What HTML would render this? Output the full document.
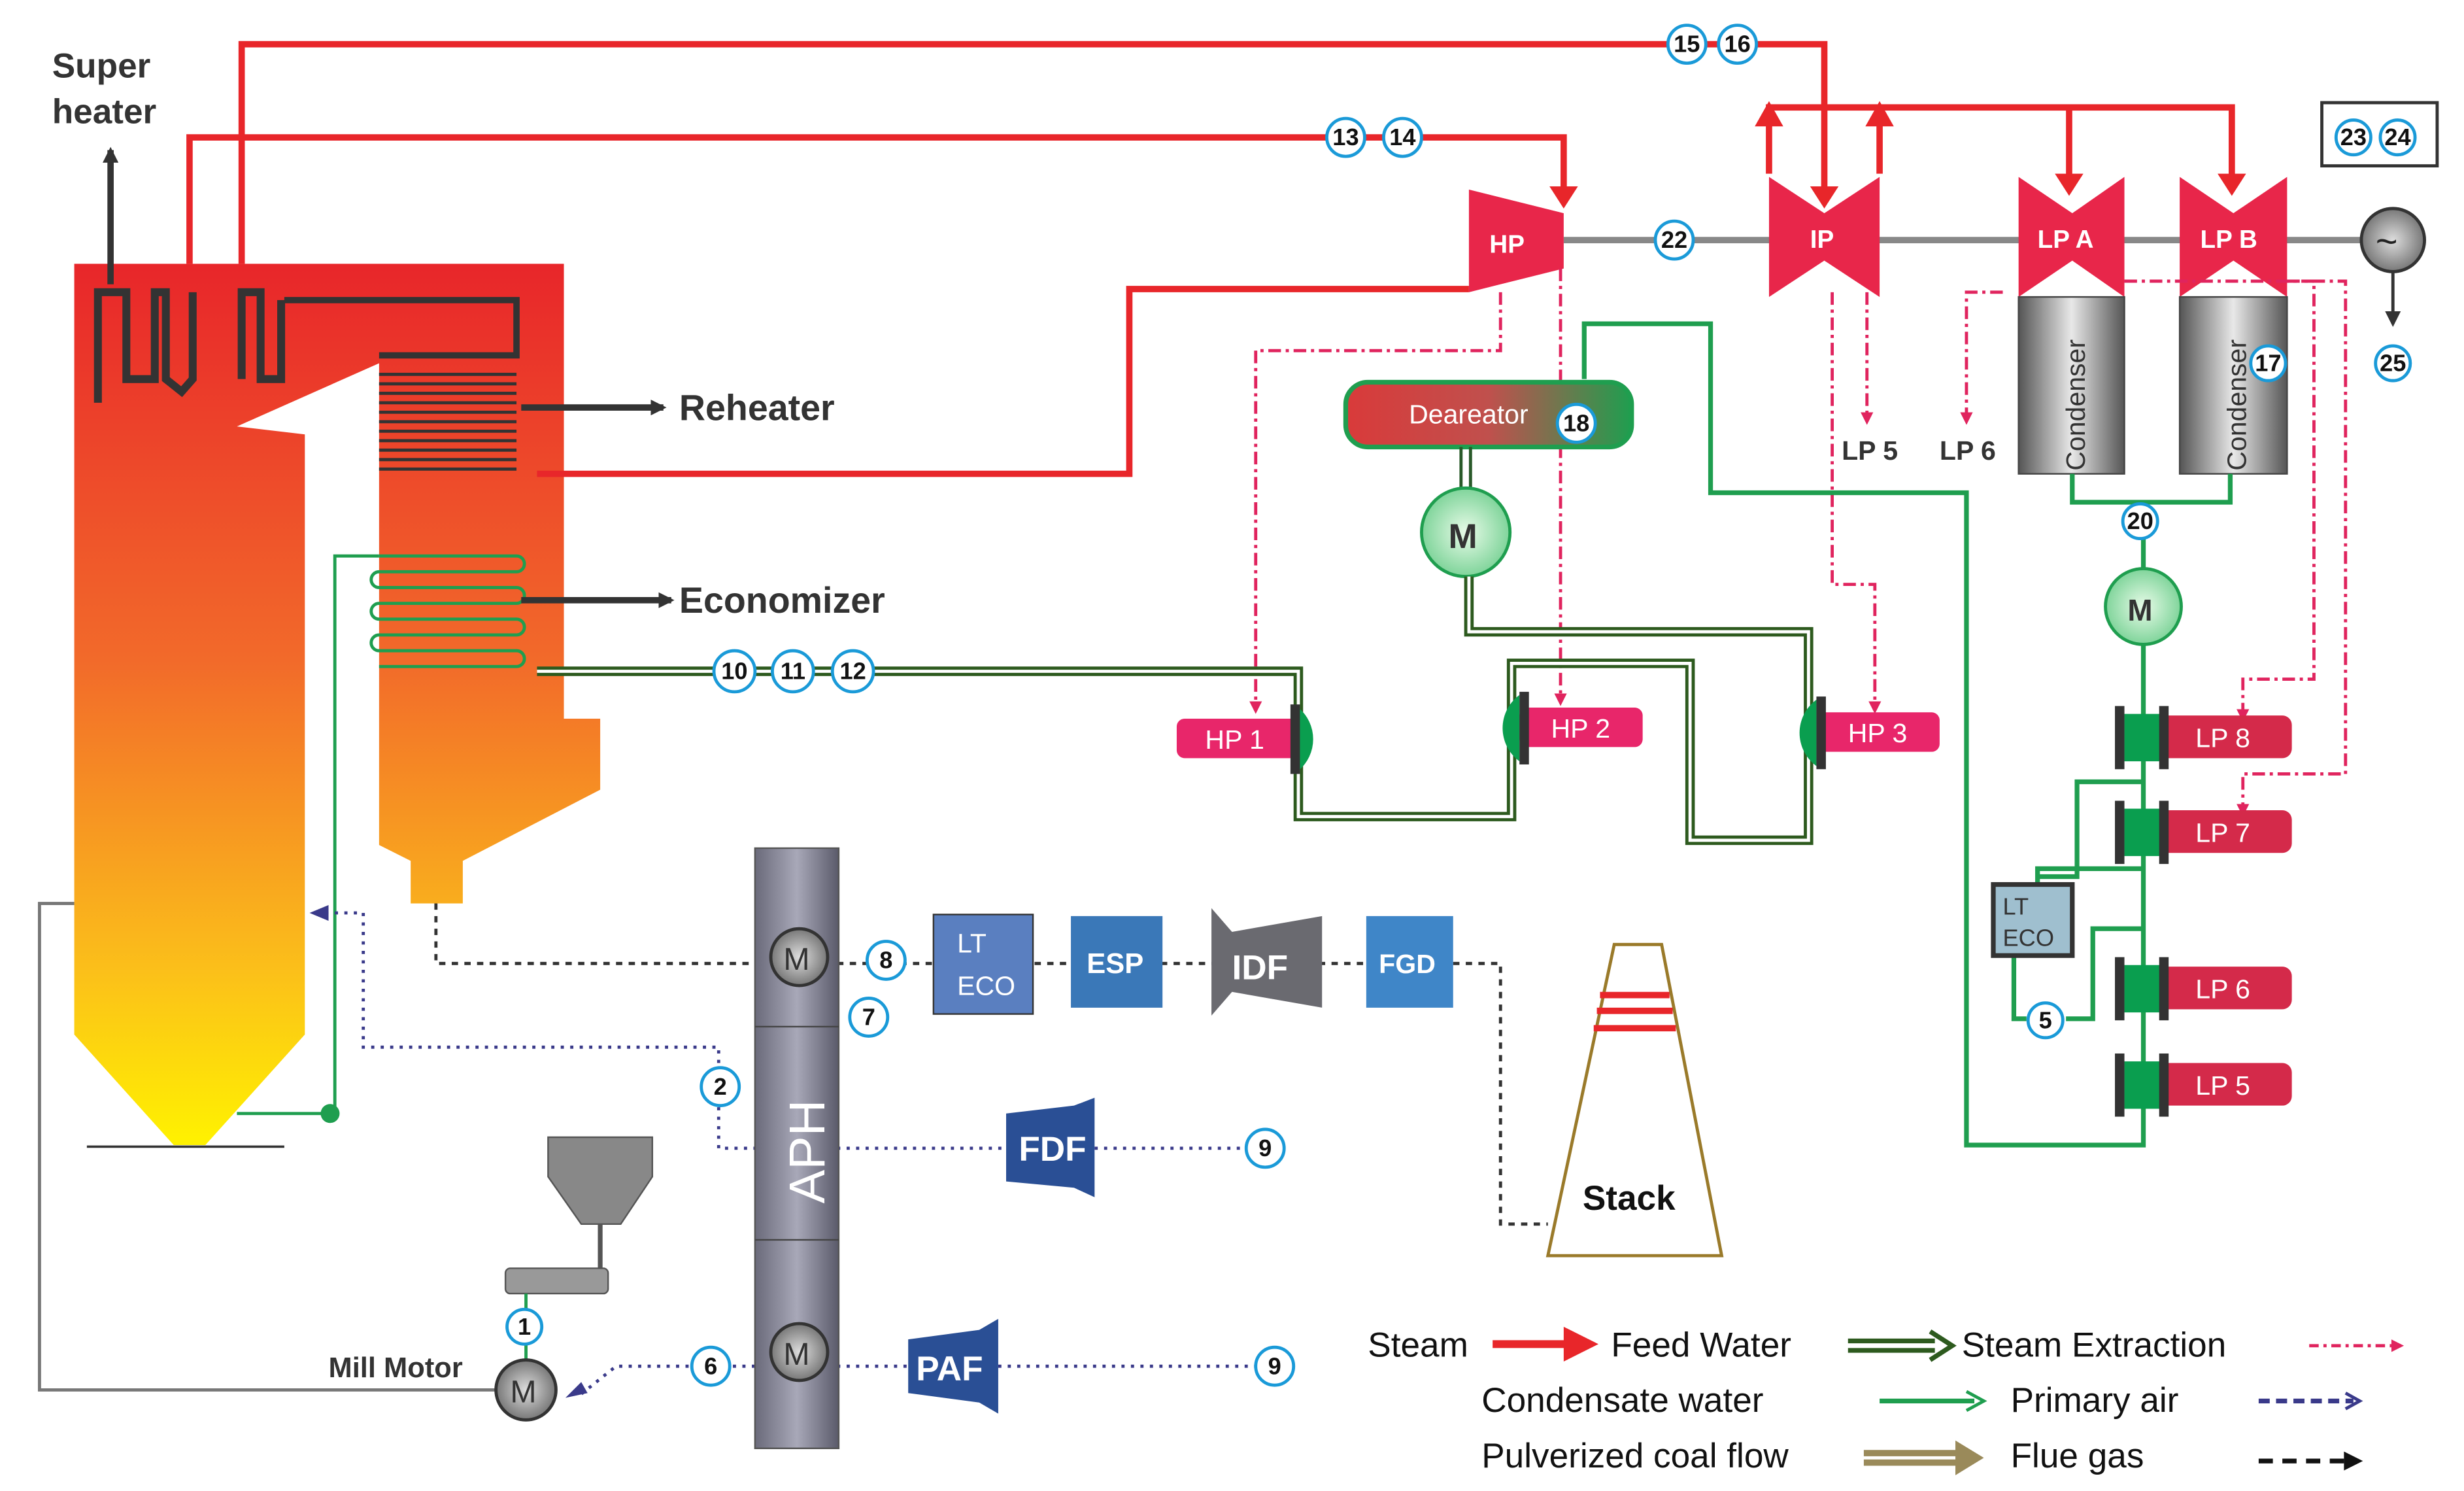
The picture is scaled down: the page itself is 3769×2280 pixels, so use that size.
<!DOCTYPE html>
<html><head><meta charset="utf-8"><style>
html,body{margin:0;padding:0;background:#fff;}
svg{display:block;}
text{font-family:"Liberation Sans",sans-serif;}
</style></head><body>
<svg width="3769" height="2280" viewBox="0 0 1560 944" preserveAspectRatio="none" xmlns="http://www.w3.org/2000/svg">
<defs>
<linearGradient id="boil" x1="0" y1="0" x2="0" y2="1">
<stop offset="0" stop-color="#e8262a"/><stop offset="0.45" stop-color="#f26a2a"/><stop offset="0.8" stop-color="#fbbf1a"/><stop offset="1" stop-color="#fff200"/></linearGradient>
<linearGradient id="dea" x1="0" y1="0" x2="1" y2="0"><stop offset="0" stop-color="#d93a3a"/><stop offset="0.5" stop-color="#c0504d"/><stop offset="1" stop-color="#1f9e4f"/></linearGradient>
<linearGradient id="cond" x1="0" y1="0" x2="1" y2="0"><stop offset="0" stop-color="#555"/><stop offset="0.5" stop-color="#e8e8e8"/><stop offset="1" stop-color="#555"/></linearGradient>
<linearGradient id="aph" x1="0" y1="0" x2="1" y2="0"><stop offset="0" stop-color="#6a6a7a"/><stop offset="0.5" stop-color="#a8a8b8"/><stop offset="1" stop-color="#5a5a6a"/></linearGradient>
<radialGradient id="mg"><stop offset="0" stop-color="#e8fbe8"/><stop offset="1" stop-color="#7fd49a"/></radialGradient>
<radialGradient id="gm"><stop offset="0" stop-color="#ddd"/><stop offset="1" stop-color="#777"/></radialGradient>
<marker id="ar" markerWidth="6" markerHeight="6" refX="3" refY="3" orient="auto" markerUnits="strokeWidth"><path d="M0,0 L6,3 L0,6 Z" fill="#e8262a"/></marker>
<marker id="ap" markerWidth="8" markerHeight="8" refX="6" refY="4" orient="auto" markerUnits="userSpaceOnUse"><path d="M0,0 L8,4 L0,8 Z" fill="#e0245e"/></marker>
<marker id="ak" markerWidth="10" markerHeight="10" refX="8" refY="5" orient="auto" markerUnits="userSpaceOnUse"><path d="M0,0 L10,5 L0,10 Z" fill="#333"/></marker>
</defs>

<!-- Boiler -->
<path d="M47,167 L357,167 L357,455 L380,455 L380,500 L293,545 L293,572 L260,572 L260,545 L240,535 L240,230 L150,270 L193,275 L193,655 L130,725 L110,725 L47,655 Z" fill="url(#boil)"/>
<line x1="55" y1="726" x2="180" y2="726" stroke="#333" stroke-width="1.5"/>
<!-- superheater tubes -->
<path d="M62,255 V185 H80 V240 H98 V185 H105 V240 L115,248 L122,240 V185 M153,240 V185 H165 V240 H178 V190" fill="none" stroke="#333" stroke-width="5"/>
<path d="M180,190 H327 V225 H240" fill="none" stroke="#333" stroke-width="4"/>
<!-- reheater coils -->
<g stroke="#333" stroke-width="2">
<line x1="240" y1="237" x2="327" y2="237"/><line x1="240" y1="243" x2="327" y2="243"/><line x1="240" y1="249" x2="327" y2="249"/><line x1="240" y1="255" x2="327" y2="255"/><line x1="240" y1="261" x2="327" y2="261"/><line x1="240" y1="267" x2="327" y2="267"/><line x1="240" y1="273" x2="327" y2="273"/><line x1="240" y1="279" x2="327" y2="279"/><line x1="240" y1="285" x2="327" y2="285"/><line x1="240" y1="291" x2="327" y2="291"/><line x1="240" y1="297" x2="327" y2="297"/></g>
<!-- economizer coils -->
<g fill="none" stroke="#1f9e4f" stroke-width="2">
<path d="M240,352 H327 A5,5 0 0 1 327,362 H240 A5,5 0 0 0 240,372 H327 A5,5 0 0 1 327,382 H240 A5,5 0 0 0 240,392 H327 A5,5 0 0 1 327,402 H240 A5,5 0 0 0 240,412 H327 A5,5 0 0 1 327,422 H240"/>
<path d="M240,352 H212 V705 H150"/></g>
<circle cx="209" cy="705" r="6" fill="#1f9e4f"/>
<path d="M330,258 H420" stroke="#333" stroke-width="4" marker-end="url(#ak)"/>
<path d="M330,380 H425" stroke="#333" stroke-width="4" marker-end="url(#ak)"/>
<text x="430" y="266" font-size="23" font-weight="bold" fill="#333">Reheater</text>
<text x="430" y="388" font-size="23" font-weight="bold" fill="#333">Economizer</text>
<path d="M70,180 V95" stroke="#333" stroke-width="4" marker-end="url(#ak)"/>
<text x="33" y="49" font-size="22" font-weight="bold" fill="#333">Super</text>
<text x="33" y="78" font-size="22" font-weight="bold" fill="#333">heater</text>

<!-- Red steam lines -->
<g fill="none" stroke="#e8262a" stroke-width="4">
<path d="M120,167 V87 H990 V122"/>
<path d="M153,167 V28 H1155 V125"/>
<path d="M340,300 H715 V183 H930"/>
<path d="M1120,110 V68 H1413 V115"/>
<path d="M1190,110 V68 M1310,68 V115"/>
</g>
<g fill="#e8262a">
<path d="M981,118 L999,118 L990,132 Z"/><path d="M1146,118 L1164,118 L1155,132 Z"/>
<path d="M1111,80 L1129,80 L1120,64 Z"/><path d="M1181,80 L1199,80 L1190,64 Z"/>
<path d="M1301,110 L1319,110 L1310,124 Z"/><path d="M1404,110 L1422,110 L1413,124 Z"/>
</g>

<!-- shaft -->
<line x1="990" y1="152" x2="1495" y2="152" stroke="#888" stroke-width="4"/>
<!-- turbines -->
<path d="M930,120 L990,135 L990,170 L930,185 Z" fill="#e8264a"/>
<text x="943" y="160" font-size="16" font-weight="bold" fill="#fff">HP</text>
<path d="M1120,112 L1155,135 L1190,112 L1190,188 L1155,165 L1120,188 Z" fill="#e8264a"/>
<text x="1146" y="157" font-size="16" font-weight="bold" fill="#fff">IP</text>
<path d="M1278,112 L1312,135 L1345,112 L1345,188 L1312,165 L1278,188 Z" fill="#e8264a"/>
<text x="1290" y="157" font-size="16" font-weight="bold" fill="#fff">LP A</text>
<path d="M1380,112 L1414,135 L1448,112 L1448,188 L1414,165 L1380,188 Z" fill="#e8264a"/>
<text x="1393" y="157" font-size="16" font-weight="bold" fill="#fff">LP B</text>
<circle cx="1515" cy="152" r="20" fill="url(#gm)" stroke="#333" stroke-width="2"/>
<text x="1504" y="161" font-size="24" fill="#222">~</text>
<rect x="1470" y="65" width="73" height="40" fill="#fff" stroke="#333" stroke-width="2"/>
<path d="M1515,172 V205" stroke="#333" stroke-width="2" marker-end="url(#ak)"/>

<!-- condensers -->
<rect x="1278" y="188" width="67" height="112" fill="url(#cond)" stroke="#444"/>
<rect x="1380" y="188" width="68" height="112" fill="url(#cond)" stroke="#444"/>
<text transform="translate(1320,298) rotate(-90)" font-size="17" fill="#333">Condenser</text>
<text transform="translate(1422,298) rotate(-90)" font-size="17" fill="#333">Condenser</text>

<!-- extraction dash-dot pink -->
<g fill="none" stroke="#e0245e" stroke-width="2" stroke-dasharray="8,3,2,3">
<path d="M950,185 V222 H795 V450" marker-end="url(#ap)"/>
<path d="M988,170 V445" marker-end="url(#ap)"/>
<path d="M1160,185 V370 H1187 V450" marker-end="url(#ap)"/>
<path d="M1182,185 V267" marker-end="url(#ap)"/>
<path d="M1268,185 H1245 V267" marker-end="url(#ap)"/>
<path d="M1345,178 H1465 V430 H1420 V455" marker-end="url(#ap)"/>
<path d="M1448,178 H1485 V490 H1420 V515" marker-end="url(#ap)"/>
</g>
<text x="1166" y="291" font-size="17" font-weight="bold" fill="#333">LP 5</text>
<text x="1228" y="291" font-size="17" font-weight="bold" fill="#333">LP 6</text>

<!-- condensate green lines -->
<g fill="none" stroke="#1f9e4f" stroke-width="3">
<path d="M1003,240 V205 H1083 V312 H1245 V725 H1357 V405"/>
<path d="M1312,300 V318 H1412 V300 M1357,318 V360"/>
<path d="M1357,495 H1315 V555 H1290 V580 M1357,550 H1290 V560 M1357,588 H1325 V645 H1308 M1275,605 V645 H1283"/>
</g>
<!-- deaerator -->
<rect x="852" y="242" width="181" height="41" rx="14" fill="url(#dea)" stroke="#1f9e4f" stroke-width="3"/>
<text x="892" y="268" font-size="17" fill="#fff">Deareator</text>
<path d="M925,283 V310 M931,283 V310" stroke="#2a5a2a" stroke-width="2"/>
<circle cx="928" cy="337" r="28" fill="url(#mg)" stroke="#1f9e4f" stroke-width="2"/>
<text x="917" y="347" font-size="22" font-weight="bold" fill="#333">M</text>
<circle cx="1357" cy="384" r="24" fill="url(#mg)" stroke="#1f9e4f" stroke-width="2"/>
<text x="1347" y="393" font-size="19" font-weight="bold" fill="#333">M</text>

<!-- feed water double lines -->
<g fill="none" stroke="#2d5a1e" stroke-width="6"><path d="M340,425 H822 V517 H957 V447 M930,365 V400 H1145 V532 H1070 V420 H957 V447 M822,425 V455 M1145,420 V450"/></g>
<g fill="none" stroke="#fff" stroke-width="2"><path d="M340,425 H822 V517 H957 V447 M930,365 V400 H1145 V532 H1070 V420 H957 V447 M822,425 V455 M1145,420 V450"/></g>

<!-- HP heaters -->
<rect x="745" y="455" width="78" height="25" rx="5" fill="#e8266a"/><text x="763" y="474" font-size="17" fill="#fff">HP 1</text>
<path d="M822,448 A26,26 0 0 1 822,488 Z" fill="#0a9e4f"/><rect x="817" y="446" width="6" height="44" fill="#333"/>
<rect x="962" y="448" width="78" height="25" rx="5" fill="#e8266a"/><text x="982" y="467" font-size="17" fill="#fff">HP 2</text>
<path d="M962,440 A26,26 0 0 0 962,482 Z" fill="#0a9e4f"/><rect x="962" y="438" width="6" height="46" fill="#333"/>
<rect x="1150" y="451" width="78" height="25" rx="5" fill="#e8266a"/><text x="1170" y="470" font-size="17" fill="#fff">HP 3</text>
<path d="M1150,443 A26,26 0 0 0 1150,485 Z" fill="#0a9e4f"/><rect x="1150" y="441" width="6" height="46" fill="#333"/>
<!-- LP heaters -->
<g>
<rect x="1365" y="453" width="86" height="27" rx="6" fill="#d42a4a"/><rect x="1345" y="452" width="25" height="30" fill="#0a9e4f"/><rect x="1339" y="447" width="6" height="40" fill="#333"/><rect x="1367" y="447" width="6" height="40" fill="#333"/><text x="1390" y="473" font-size="17" fill="#fff">LP 8</text>
<rect x="1365" y="513" width="86" height="27" rx="6" fill="#d42a4a"/><rect x="1345" y="512" width="25" height="30" fill="#0a9e4f"/><rect x="1339" y="507" width="6" height="40" fill="#333"/><rect x="1367" y="507" width="6" height="40" fill="#333"/><text x="1390" y="533" font-size="17" fill="#fff">LP 7</text>
<rect x="1365" y="612" width="86" height="27" rx="6" fill="#d42a4a"/><rect x="1345" y="611" width="25" height="30" fill="#0a9e4f"/><rect x="1339" y="606" width="6" height="40" fill="#333"/><rect x="1367" y="606" width="6" height="40" fill="#333"/><text x="1390" y="632" font-size="17" fill="#fff">LP 6</text>
<rect x="1365" y="673" width="86" height="27" rx="6" fill="#d42a4a"/><rect x="1345" y="672" width="25" height="30" fill="#0a9e4f"/><rect x="1339" y="667" width="6" height="40" fill="#333"/><rect x="1367" y="667" width="6" height="40" fill="#333"/><text x="1390" y="693" font-size="17" fill="#fff">LP 5</text>
</g>
<rect x="1262" y="560" width="50" height="45" fill="#9fbfcf" stroke="#333" stroke-width="3"/>
<text x="1268" y="579" font-size="15" fill="#333">LT</text><text x="1268" y="599" font-size="15" fill="#333">ECO</text>

<!-- flue gas path -->
<g fill="none" stroke="#333" stroke-width="2" stroke-dasharray="4,4">
<path d="M276,572 V610 H490"/><path d="M530,610 H590 M655,610 H680 M735,610 H768 M835,610 H865 M920,610 H950 V775 H980"/>
</g>
<g fill="none" stroke="#3a3a8a" stroke-width="2" stroke-dasharray="2,4">
<path d="M200,578 H230 V663 H455 V727 H478 M530,727 H640 M693,727 H790"/>
<path d="M530,865 H580 M632,865 H795 M478,865 H390 L365,885"/>
</g>
<path d="M372,882 L358,885 L368,875 Z" fill="#3a3a8a"/><path d="M208,573 L196,578 L208,583 Z" fill="#3a3a8a"/>
<!-- mill line -->
<path d="M47,572 H25 V880 H315" fill="none" stroke="#777" stroke-width="2"/>

<!-- APH -->
<rect x="478" y="537" width="53" height="380" fill="url(#aph)" stroke="#555"/>
<line x1="478" y1="650" x2="531" y2="650" stroke="#444"/><line x1="478" y1="785" x2="531" y2="785" stroke="#444"/>
<text transform="translate(522,762) rotate(-90)" font-size="32" fill="#fff">APH</text>
<circle cx="506" cy="606" r="18" fill="url(#gm)" stroke="#333" stroke-width="2"/><text x="496" y="614" font-size="20" fill="#333">M</text>
<circle cx="506" cy="856" r="18" fill="url(#gm)" stroke="#333" stroke-width="2"/><text x="496" y="864" font-size="20" fill="#333">M</text>

<rect x="591" y="579" width="63" height="63" fill="#5a7fc0" stroke="#333"/><text x="606" y="603" font-size="17" fill="#fff">LT</text><text x="606" y="630" font-size="17" fill="#fff">ECO</text>
<rect x="678" y="580" width="58" height="58" fill="#3a78b8"/><text x="688" y="616" font-size="18" font-weight="bold" fill="#fff">ESP</text>
<path d="M767,575 L780,590 L837,580 L837,638 L780,628 L767,643 Z" fill="#6a6a70"/><text x="780" y="620" font-size="22" font-weight="bold" fill="#fff">IDF</text>
<rect x="865" y="580" width="55" height="58" fill="#3f86c8"/><text x="873" y="616" font-size="17" font-weight="bold" fill="#fff">FGD</text>
<path d="M637,705 L680,700 L693,695 L693,758 L680,752 L637,748 Z" fill="#2a4f95"/><text x="645" y="735" font-size="22" font-weight="bold" fill="#fff">FDF</text>
<path d="M575,848 L620,842 L632,835 L632,895 L620,888 L575,882 Z" fill="#2a4f95"/><text x="580" y="874" font-size="22" font-weight="bold" fill="#fff">PAF</text>

<!-- stack -->
<path d="M1022,598 L1052,598 L1090,795 L980,795 Z" fill="#fff" stroke="#9a7a2a" stroke-width="2"/>
<g stroke="#e8262a" stroke-width="4"><line x1="1013" y1="630" x2="1057" y2="630"/><line x1="1011" y1="640" x2="1059" y2="640"/><line x1="1009" y1="651" x2="1061" y2="651"/></g>
<text x="1002" y="766" font-size="22" font-weight="bold" fill="#111">Stack</text>

<!-- mill -->
<path d="M347,720 L413,720 L413,745 L393,775 L368,775 L347,745 Z" fill="#888" stroke="#555"/>
<line x1="380" y1="775" x2="380" y2="805" stroke="#555" stroke-width="3"/>
<rect x="320" y="803" width="65" height="16" rx="3" fill="#999" stroke="#555"/>
<line x1="333" y1="819" x2="333" y2="862" stroke="#1f9e4f" stroke-width="2"/>
<circle cx="333" cy="880" r="19" fill="url(#gm)" stroke="#333" stroke-width="2"/><text x="323" y="888" font-size="20" fill="#333">M</text>
<text x="208" y="872" font-size="18" font-weight="bold" fill="#333">Mill Motor</text>

<!-- number circles -->
<g fill="#fff" stroke="#1a9ad8" stroke-width="2">
<circle cx="1068" cy="28" r="12"/><circle cx="1100" cy="28" r="12"/><circle cx="852" cy="87" r="12"/><circle cx="888" cy="87" r="12"/>
<circle cx="1060" cy="152" r="12"/><circle cx="998" cy="268" r="12"/><circle cx="1436" cy="230" r="11"/><circle cx="1490" cy="87" r="11"/><circle cx="1518" cy="87" r="11"/>
<circle cx="1515" cy="230" r="11"/><circle cx="1355" cy="330" r="11"/><circle cx="465" cy="425" r="13"/><circle cx="502" cy="425" r="13"/><circle cx="540" cy="425" r="13"/>
<circle cx="561" cy="608" r="12"/><circle cx="550" cy="644" r="12"/><circle cx="456" cy="688" r="12"/><circle cx="801" cy="727" r="12"/><circle cx="807" cy="865" r="12"/>
<circle cx="450" cy="865" r="12"/><circle cx="332" cy="840" r="11"/><circle cx="1295" cy="646" r="11"/></g>
<g font-size="15" font-weight="bold" fill="#111" text-anchor="middle">
<text x="1068" y="33">15</text><text x="1100" y="33">16</text><text x="852" y="92">13</text><text x="888" y="92">14</text>
<text x="1060" y="157">22</text><text x="998" y="273">18</text><text x="1436" y="235">17</text><text x="1490" y="92">23</text><text x="1518" y="92">24</text>
<text x="1515" y="235">25</text><text x="1355" y="335">20</text><text x="465" y="430">10</text><text x="502" y="430">11</text><text x="540" y="430">12</text>
<text x="561" y="613">8</text><text x="550" y="649">7</text><text x="456" y="693">2</text><text x="801" y="732">9</text><text x="807" y="870">9</text>
<text x="450" y="870">6</text><text x="332" y="845">1</text><text x="1295" y="651">5</text></g>

<!-- legend -->
<g font-size="22" fill="#111">
<text x="866" y="859">Steam</text><text x="1020" y="859">Feed Water</text><text x="1242" y="859">Steam Extraction</text>
<text x="938" y="894">Condensate water</text><text x="1273" y="894">Primary air</text>
<text x="938" y="929">Pulverized coal flow</text><text x="1273" y="929">Flue gas</text></g>
<path d="M945,851 H995" stroke="#e8262a" stroke-width="5"/><path d="M990,840 L1012,851 L990,862 Z" fill="#e8262a"/>
<path d="M1170,849 H1225 M1170,855 H1225" stroke="#2d5a1e" stroke-width="3"/><path d="M1222,843 L1236,852 L1222,861" fill="none" stroke="#2d5a1e" stroke-width="3"/>
<path d="M1462,852 H1520" stroke="#e0245e" stroke-width="2" stroke-dasharray="6,3,2,3" marker-end="url(#ap)"/>
<path d="M1190,887 H1250" stroke="#1f9e4f" stroke-width="3"/><path d="M1245,881 L1256,887 L1245,893" fill="none" stroke="#1f9e4f" stroke-width="2"/>
<path d="M1430,887 H1490" stroke="#3a3a8a" stroke-width="3" stroke-dasharray="7,4"/><path d="M1485,882 L1494,887 L1485,892" fill="none" stroke="#3a3a8a" stroke-width="2"/>
<path d="M1180,920 H1240 M1180,926 H1240" stroke="#9a8a5a" stroke-width="4"/><path d="M1238,912 L1256,923 L1238,934 Z" fill="#9a8a5a"/>
<path d="M1430,925 H1485" stroke="#111" stroke-width="3" stroke-dasharray="9,6"/><path d="M1484,919 L1496,925 L1484,931 Z" fill="#111"/>
</svg>
</body></html>
